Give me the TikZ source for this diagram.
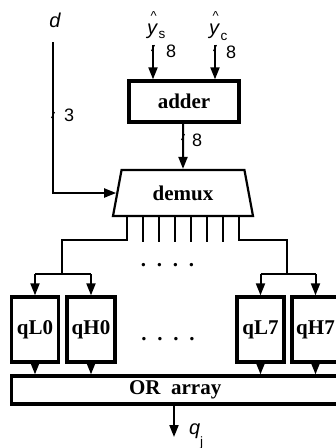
\documentclass[tikz,border=0pt]{standalone}
\usepackage{fontspec}
\setmainfont{Liberation Serif}
\newfontfamily\labfont{Liberation Sans}
\usetikzlibrary{arrows.meta,shapes.geometric,calc}

% italic letter with a caret above and a lowered upright subscript
\newcommand{\hatsym}[3]{\makebox[0pt][l]{\hspace{3.5pt}\raisebox{14pt}{\fontsize{13}{14}\selectfont\upshape\textasciicircum}}\textit{#1}\hspace{0.5pt}\raisebox{-#3}{\fontsize{13.5}{15}\selectfont\upshape #2}}

\begin{document}
\begin{tikzpicture}[x=1pt,y=-1pt,
  wire/.style={line width=2pt},
  bus/.style={wire,-{Triangle[length=12pt,width=9pt]}},
  blk/.style={draw,line width=3.3pt,font=\fontsize{21}{24}\selectfont\bfseries,inner sep=0pt},
  cell/.style={blk,minimum width=47pt,minimum height=65pt},
  lab/.style={font=\labfont\fontsize{18}{20}\selectfont,inner sep=0pt},
  sym/.style={font=\labfont\itshape\fontsize{20}{22}\selectfont,inner sep=0pt},
  sub/.style={font=\labfont\fontsize{13.5}{15}\selectfont,inner sep=0pt},
  tick/.style={line width=1pt},
  dots/.style={font=\fontsize{21}{24}\selectfont\bfseries,inner sep=0pt}]

\useasboundingbox (0,0) rectangle (336,448);

% ---- blocks ----
\node[blk,minimum width=110pt,minimum height=41pt] (adder) at (184,101.5) {adder};
\node[draw,line width=2.2pt,shape=trapezium,trapezium angle=60,
      trapezium stretches body=true,minimum width=140pt,minimum height=46pt,
      inner sep=0pt,font=\fontsize{21}{24}\selectfont\bfseries] (demux) at (183,193) {demux};

\node[cell] (qL0) at (35,329.5) {qL0};
\node[cell,minimum width=48pt] (qH0) at (91,329.5) {qH0};
\node[cell] (qL7) at (260.5,329.5) {qL7};
\node[cell] (qH7) at (315.5,329.5) {qH7};

\node[blk,minimum width=327.7pt,minimum height=28pt] (or) at (175.2,390) {OR\ \ array};

% ---- labels ----
\node[sym,anchor=base] (d) at (55,27) {d};

\node[sym,font=\labfont\upshape\fontsize{20}{22}\selectfont,anchor=base west] (ys) at (147,34) {\hatsym{y}{s}{4pt}};
\node[sym,font=\labfont\upshape\fontsize{20}{22}\selectfont,anchor=base west] (yc) at (209,34) {\hatsym{y}{c}{6pt}};

\node[lab,anchor=base west] (w1) at (166,57) {8};
\node[lab,anchor=base west] (w2) at (226,58) {8};
\node[lab,anchor=base west] (w3) at (192,146) {8};
\node[lab,anchor=base west] (w4) at (64,121) {3};

\node[sym,anchor=base west] (q) at (189,434) {q};
\node[sub,anchor=base west,text depth=0pt] (qj) at (200,446) {j};

\node[dots] (dots1) at (167.5,265) {.\hspace{10.7pt}.\hspace{10.7pt}.\hspace{10.7pt}.};
\node[dots] (dots2) at (168,339) {.\hspace{10.7pt}.\hspace{10.7pt}.\hspace{10.7pt}.};

% ---- inputs to the adder ----
\coordinate (ysin) at (153,45);
\coordinate (ycin) at (215,45);
\draw[bus] (ysin) -- (ysin |- adder.north);
\draw[bus] (ycin) -- (ycin |- adder.north);
\draw[tick] (151.5,51) -- (154.5,45);
\draw[tick] (213.5,51) -- (216.5,45);

% ---- adder to demux ----
\draw[bus] (adder.south -| 183,0) -- (demux.north);
\draw[tick] (181.5,140) -- (184.5,134);

% ---- select input ----
\coordinate (dtop) at (53,42);
\draw[bus] (dtop) -- (dtop |- demux.left side) -- (demux.left side);
\draw[tick] (51.5,118) -- (54.5,112);

% ---- demux outputs ----
\foreach \i in {1,...,6}{
  \draw[wire] ($(demux.south)+({(\i-3.5)*15.9},0)$) -- ++(0,25);
}
\coordinate (o0) at ($(demux.south)+(-55.6,0)$);
\coordinate (o7) at ($(demux.south)+(55.8,0)$);
\coordinate (jl) at (62,274);
\coordinate (jr) at (287,274);
\draw[wire] (o0) -- (o0 |- 0,240) -- (jl |- 0,240) -- (jl);
\draw[wire] (o7) -- (o7 |- 0,240) -- (jr |- 0,240) -- (jr);
\draw[wire] (qL0.north |- jl) -- (qH0.north |- jl);
\draw[wire] (qL7.north |- jr) -- (qH7.north |- jr);
\foreach \c/\j in {qL0/jl,qH0/jl,qL7/jr,qH7/jr}{
  \draw[bus] (\c.north |- \j) -- (\c.north);
}

% ---- cells to the OR array ----
\foreach \c in {qL0,qH0,qL7,qH7}{
  \draw[bus] (\c.south) -- (\c.south |- or.north);
}

% ---- output ----
\coordinate (qout) at (174,437);
\draw[bus] (or.south -| qout) -- (qout);
\end{tikzpicture}
\end{document}
